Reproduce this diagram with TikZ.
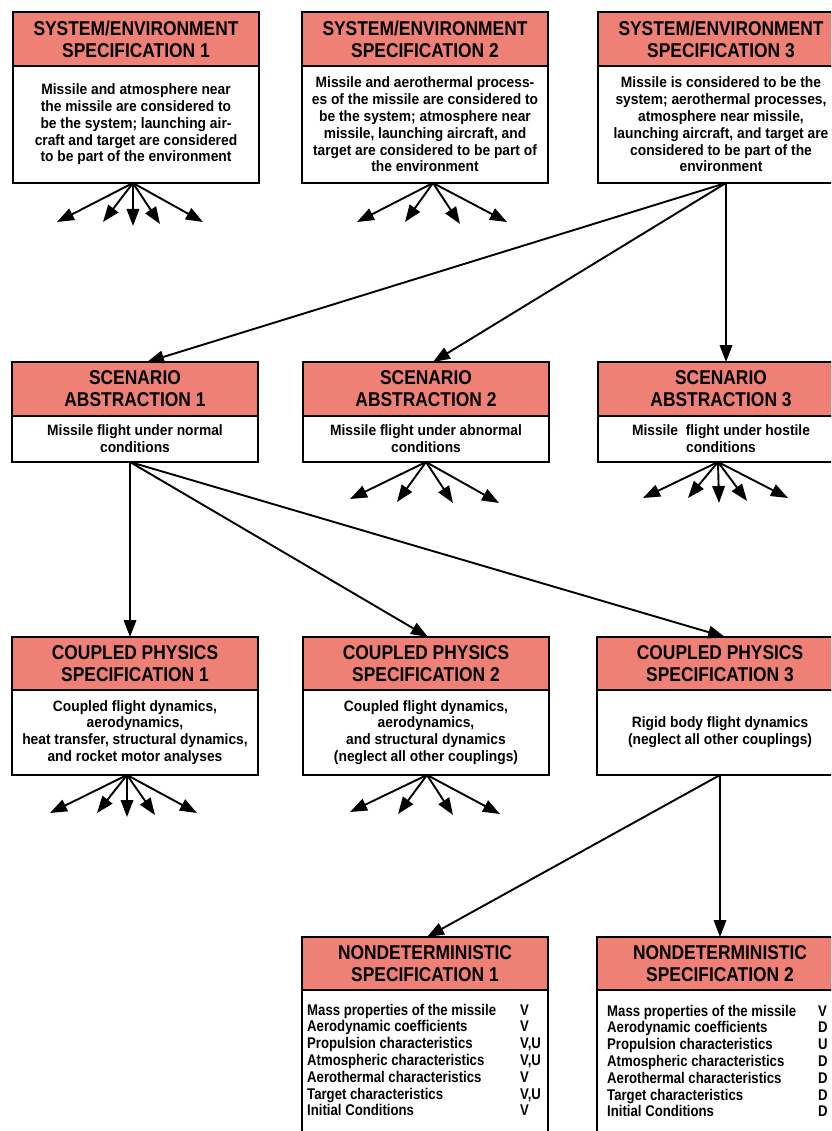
\documentclass[tikz,border=0pt]{standalone}
\usepackage{fontspec}
\setmainfont{Liberation Sans}[FakeStretch=0.92]
\newfontfamily\headfont{Liberation Sans}[FakeStretch=0.87]
\newfontfamily\listfont{Liberation Sans}[FakeStretch=0.85]
\usetikzlibrary{arrows.meta}
\definecolor{headfill}{RGB}{239,128,118}
\tikzset{
  box/.style={draw=black, line width=1.5pt, minimum width=246pt, inner sep=0pt, outer sep=0pt, align=center},
  hdr/.style={box, fill=headfill, minimum height=54pt, anchor=north west,
    font=\headfont\bfseries\fontsize{20}{22}\selectfont},
  bodybox/.style={box, fill=white, anchor=north west,
    font=\bfseries\fontsize{15}{16.8}\selectfont},
  arr/.style={line width=1.9pt, -{Triangle[length=17pt,width=12.5pt]}},
  lst/.style={anchor=base west, inner sep=0pt, align=left,
    font=\listfont\bfseries\fontsize{15.5}{16.8}\selectfont}
}
\begin{document}
\begin{tikzpicture}[x=1pt,y=-1pt]
\useasboundingbox (0,0) rectangle (831,1131);
\clip (0,0) rectangle (831,1131);

% ---- system / environment specifications
\node[hdr] (se1h) at (13,12) {SYSTEM/ENVIRONMENT\\SPECIFICATION 1};
\node[bodybox, minimum height=117pt] (se1b) at (se1h.south west)
  {Missile and atmosphere near\\the missile are considered to\\be the system; launching air-\\craft and target are considered\\to be part of the environment};
\node[hdr] (se2h) at (302,12) {SYSTEM/ENVIRONMENT\\SPECIFICATION 2};
\node[bodybox, minimum height=117pt] (se2b) at (se2h.south west)
  {Missile and aerothermal process-\\es of the missile are considered to\\be the system; atmosphere near\\missile, launching aircraft, and\\target are considered to be part of\\the environment};
\node[hdr] (se3h) at (598,12) {SYSTEM/ENVIRONMENT\\SPECIFICATION 3};
\node[bodybox, minimum height=117pt] (se3b) at (se3h.south west)
  {Missile is considered to be the\\system; aerothermal processes,\\atmosphere near missile,\\launching aircraft, and target are\\considered to be part of the\\environment};

% ---- scenario abstractions
\node[hdr] (sa1h) at (12,362) {SCENARIO\\ABSTRACTION 1};
\node[bodybox, minimum height=46pt] (sa1b) at (sa1h.south west)
  {Missile flight under normal\\conditions};
\node[hdr] (sa2h) at (303,362) {SCENARIO\\ABSTRACTION 2};
\node[bodybox, minimum height=46pt] (sa2b) at (sa2h.south west)
  {Missile flight under abnormal\\conditions};
\node[hdr] (sa3h) at (598,362) {SCENARIO\\ABSTRACTION 3};
\node[bodybox, minimum height=46pt] (sa3b) at (sa3h.south west)
  {Missile\ \ flight under hostile\\conditions};

% ---- coupled physics specifications
\node[hdr, minimum height=53pt] (cp1h) at (12,637) {COUPLED PHYSICS\\SPECIFICATION 1};
\node[bodybox, minimum height=85pt] (cp1b) at (cp1h.south west)
  {Coupled flight dynamics,\\aerodynamics,\\heat transfer, structural dynamics,\\and rocket motor analyses};
\node[hdr, minimum height=53pt] (cp2h) at (303,637) {COUPLED PHYSICS\\SPECIFICATION 2};
\node[bodybox, minimum height=85pt] (cp2b) at (cp2h.south west)
  {Coupled flight dynamics,\\aerodynamics,\\and structural dynamics\\(neglect all other couplings)};
\node[hdr, minimum height=53pt] (cp3h) at (597,637) {COUPLED PHYSICS\\SPECIFICATION 3};
\node[bodybox, minimum height=85pt] (cp3b) at (cp3h.south west)
  {Rigid body flight dynamics\\(neglect all other couplings)};

% ---- nondeterministic specifications
\node[hdr, minimum height=53pt] (nd1h) at (302,937) {NONDETERMINISTIC\\SPECIFICATION 1};
\node[bodybox, minimum height=200pt] (nd1b) at (nd1h.south west) {};
\node[hdr, minimum height=53pt] (nd2h) at (597,937) {NONDETERMINISTIC\\SPECIFICATION 2};
\node[bodybox, minimum height=200pt] (nd2b) at (nd2h.south west) {};

\node[lst] (nd1l) at (307,1015) {%
  \begin{tabular}[t]{@{}p{213pt}@{}l@{}}
  Mass properties of the missile & V\\
  Aerodynamic coefficients & V\\
  Propulsion characteristics & V,U\\
  Atmospheric characteristics & V,U\\
  Aerothermal characteristics & V\\
  Target characteristics & V,U\\
  Initial Conditions & V
  \end{tabular}};
\node[lst] (nd2l) at (607,1016) {%
  \begin{tabular}[t]{@{}p{211pt}@{}l@{}}
  Mass properties of the missile & V\\
  Aerodynamic coefficients & D\\
  Propulsion characteristics & U\\
  Atmospheric characteristics & D\\
  Aerothermal characteristics & D\\
  Target characteristics & D\\
  Initial Conditions & D
  \end{tabular}};

% ---- fan-out stubs (further branches not drawn)
\coordinate (se1o) at ([xshift=-3pt]se1b.south);
\foreach \x/\y [count=\i] in {57/222,103/222,133/226,160/224,203/222}{
  \coordinate (se1t\i) at (\x,\y);
  \draw[arr] (se1o) -- (se1t\i);}
\coordinate (se2o) at ([xshift=8pt]se2b.south);
\foreach \x/\y [count=\i] in {357/222,405/222,460/224,507/222}{
  \coordinate (se2t\i) at (\x,\y);
  \draw[arr] (se2o) -- (se2t\i);}
\coordinate (sa2o) at ([xshift=0pt]sa2b.south);
\foreach \x/\y [count=\i] in {350/499,397/502,453/503,499/503}{
  \coordinate (sa2t\i) at (\x,\y);
  \draw[arr] (sa2o) -- (sa2t\i);}
\coordinate (sa3o) at ([xshift=-3pt]sa3b.south);
\foreach \x/\y [count=\i] in {643/498,688/498,719/503,747/501,788/498}{
  \coordinate (sa3t\i) at (\x,\y);
  \draw[arr] (sa3o) -- (sa3t\i);}
\coordinate (cp1o) at ([xshift=-8pt]cp1b.south);
\foreach \x/\y [count=\i] in {50/813,97/813,127/817,155/815,197/813}{
  \coordinate (cp1t\i) at (\x,\y);
  \draw[arr] (cp1o) -- (cp1t\i);}
\coordinate (cp2o) at ([xshift=1pt]cp2b.south);
\foreach \x/\y [count=\i] in {350/812,398/814,453/815,500/814}{
  \coordinate (cp2t\i) at (\x,\y);
  \draw[arr] (cp2o) -- (cp2t\i);}

% ---- refinement paths
\coordinate (se3o) at ([xshift=5pt]se3b.south);
\draw[arr] (se3o) -- ([xshift=12pt]sa1h.north);
\draw[arr] (se3o) -- ([xshift=7pt]sa2h.north);
\draw[arr] (se3o) -- ([xshift=5pt]sa3h.north);

\coordinate (sa1o) at ([xshift=-5pt]sa1b.south);
\draw[arr] (sa1o) -- ([xshift=-5pt]cp1h.north);
\draw[arr] (sa1o) -- ([xshift=2pt]cp2h.north);
\draw[arr] (sa1o) -- ([xshift=5pt]cp3h.north);

\coordinate (cp3o) at ([xshift=0pt]cp3b.south);
\draw[arr] (cp3o) -- ([xshift=2pt]nd1h.north);
\draw[arr] (cp3o) -- ([xshift=0pt]nd2h.north);
\end{tikzpicture}
\end{document}
